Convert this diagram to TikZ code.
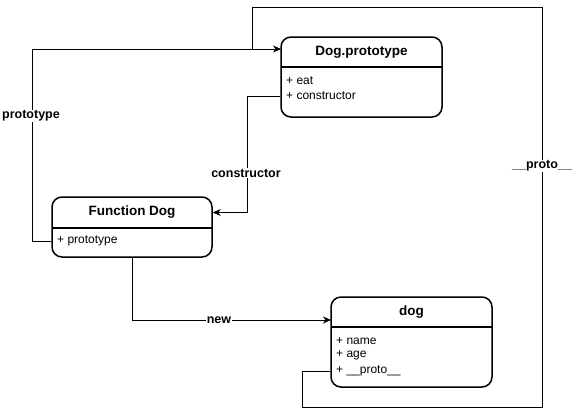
\documentclass[tikz,border=0pt]{standalone}
\usepackage{fontspec}
\setmainfont{Liberation Sans}
\usetikzlibrary{arrows.meta}
\begin{document}
\begin{tikzpicture}[x=1pt,y=-1pt,
  box/.style={draw, line width=1.5pt, rounded corners=10pt, inner sep=0pt, fill=white},
  head/.style={font=\fontsize{13.5}{16}\selectfont\bfseries, inner sep=0pt},
  row/.style={font=\fontsize{12}{14}\selectfont, inner sep=0pt, anchor=west},
  divider/.style={line width=1.5pt},
  conn/.style={line width=0.9pt, -{Stealth[length=8pt,width=7pt,inset=2.5pt]}},
  wire/.style={line width=0.9pt},
  lbl/.style={font=\fontsize{12.5}{15}\selectfont\bfseries, fill=white, inner sep=1pt}]
\useasboundingbox (0,0) rectangle (577,416);

% Dog.prototype
\node[box, minimum width=161pt, minimum height=80pt] (dp) at (361.5,77) {};
\draw[divider] (281,67) -- (442,67);
\node[head] (dph) at (361.5,52) {Dog.prototype};
\node[row] (dpe) at (286,81) {+ eat};
\node[row] (dpc) at (286,96) {+ constructor};

% Function Dog
\node[box, minimum width=160pt, minimum height=60pt] (fd) at (132,227) {};
\draw[divider] (52,228) -- (212,228);
\node[head] (fdh) at (132,212.5) {Function Dog};
\node[row] (fdp) at (57,241) {+ prototype};

% dog
\node[box, minimum width=161pt, minimum height=90pt] (dg) at (411.5,342) {};
\draw[divider] (331,327) -- (492,327);
\node[head] (dgh) at (411.5,312) {dog};
\node[row] (dgn) at (336,341) {+ name};
\node[row] (dga) at (336,355.5) {+ age};
\node[row] (dgp) at (336,371) {+ \_\_proto\_\_};

% connectors
\coordinate (dpin) at (281,49);
\coordinate (dgin) at (331,320);

\draw[conn] (fd.west |- fdp.center) -- (32,241) -- (32,49) -- (dpin);
\draw[conn] (dp.west |- dpc.center) -- (247,96) |- (fd.east |- fdh.center);
\draw[conn] (fd.south) |- (dgin);
\draw[wire] (dg.west |- dgp.center) -| (302,407) -- (542,407) -- (542,7) -- (252,7) -- (252,49);

% labels
\node[lbl] (lproto) at (31,116) {prototype};
\node[lbl] (lcons) at (246,173) {constructor};
\node[lbl] (lnew) at (219,320) {new};
\node[lbl] (lpp) at (542,166) {\_\_proto\_\_};
\end{tikzpicture}
\end{document}
